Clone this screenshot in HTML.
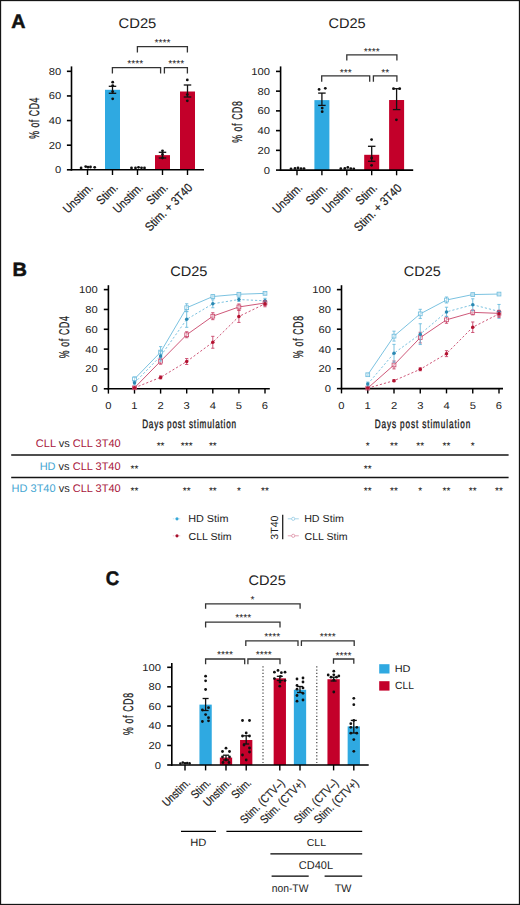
<!DOCTYPE html>
<html><head><meta charset="utf-8"><title>CD25 figure</title>
<style>html,body{margin:0;padding:0;background:#fff;}svg{display:block;}text{font-family:"Liberation Sans",sans-serif;text-rendering:geometricPrecision;}</style>
</head><body>
<svg width="520" height="905" viewBox="0 0 520 905" font-family="Liberation Sans, sans-serif">
<rect x="0" y="0" width="520" height="905" fill="#fff"/>
<text transform="translate(11.31,27.90) scale(1.007,1)" font-size="19.57" font-weight="bold" fill="#111" stroke="#111" stroke-width="0.5">A</text>
<text transform="translate(118.56,28.40) scale(1.055,1)" font-size="14.00" fill="#222">CD25</text>
<text transform="translate(33.80,118.20) rotate(-90) translate(-20.61,5.10) scale(0.620,1)" font-size="14.07" fill="#222" stroke="#222" stroke-width="0.3" letter-spacing="0.883">% of CD4</text>
<rect x="105.00" y="89.79" width="15.00" height="80.02" fill="#2fa9e1"/>
<rect x="155.00" y="155.15" width="15.00" height="14.65" fill="#c3002a"/>
<rect x="180.00" y="91.51" width="15.00" height="78.29" fill="#c3002a"/>
<line x1="71.50" y1="66.40" x2="71.50" y2="170.60" stroke="#000" stroke-width="1.6" />
<line x1="66.90" y1="169.80" x2="71.50" y2="169.80" stroke="#000" stroke-width="1.6" />
<text transform="translate(54.98,173.30) scale(1.120,1)" font-size="10.00" fill="#222">0</text>
<line x1="66.90" y1="145.18" x2="71.50" y2="145.18" stroke="#000" stroke-width="1.6" />
<text transform="translate(48.76,148.68) scale(1.120,1)" font-size="10.00" fill="#222">20</text>
<line x1="66.90" y1="120.56" x2="71.50" y2="120.56" stroke="#000" stroke-width="1.6" />
<text transform="translate(48.76,124.06) scale(1.120,1)" font-size="10.00" fill="#222">40</text>
<line x1="66.90" y1="95.94" x2="71.50" y2="95.94" stroke="#000" stroke-width="1.6" />
<text transform="translate(48.76,99.44) scale(1.120,1)" font-size="10.00" fill="#222">60</text>
<line x1="66.90" y1="71.32" x2="71.50" y2="71.32" stroke="#000" stroke-width="1.6" />
<text transform="translate(48.76,74.82) scale(1.120,1)" font-size="10.00" fill="#222">80</text>
<line x1="70.75" y1="169.80" x2="204.00" y2="169.80" stroke="#000" stroke-width="1.6" />
<line x1="87.50" y1="169.80" x2="87.50" y2="175.00" stroke="#000" stroke-width="1.4" />
<line x1="112.50" y1="169.80" x2="112.50" y2="175.00" stroke="#000" stroke-width="1.4" />
<line x1="137.50" y1="169.80" x2="137.50" y2="175.00" stroke="#000" stroke-width="1.4" />
<line x1="162.50" y1="169.80" x2="162.50" y2="175.00" stroke="#000" stroke-width="1.4" />
<line x1="187.50" y1="169.80" x2="187.50" y2="175.00" stroke="#000" stroke-width="1.4" />
<circle cx="81.10" cy="167.90" r="1.4" fill="#111"/>
<circle cx="85.70" cy="166.60" r="1.4" fill="#111"/>
<circle cx="88.00" cy="167.20" r="1.4" fill="#111"/>
<circle cx="90.50" cy="167.00" r="1.4" fill="#111"/>
<circle cx="94.70" cy="167.30" r="1.4" fill="#111"/>
<circle cx="131.50" cy="167.90" r="1.4" fill="#111"/>
<circle cx="135.50" cy="168.00" r="1.4" fill="#111"/>
<circle cx="138.50" cy="167.30" r="1.4" fill="#111"/>
<circle cx="141.50" cy="167.80" r="1.4" fill="#111"/>
<circle cx="144.50" cy="167.90" r="1.4" fill="#111"/>
<line x1="112.50" y1="86.30" x2="112.50" y2="93.30" stroke="#111" stroke-width="1.3" />
<line x1="108.75" y1="86.30" x2="116.25" y2="86.30" stroke="#111" stroke-width="1.3" />
<line x1="108.75" y1="93.30" x2="116.25" y2="93.30" stroke="#111" stroke-width="1.3" />
<circle cx="112.70" cy="82.20" r="1.4" fill="#111"/>
<circle cx="112.70" cy="85.60" r="1.4" fill="#111"/>
<circle cx="112.70" cy="91.60" r="1.4" fill="#111"/>
<circle cx="112.70" cy="98.80" r="1.4" fill="#111"/>
<line x1="162.50" y1="152.30" x2="162.50" y2="158.00" stroke="#111" stroke-width="1.3" />
<line x1="158.75" y1="152.30" x2="166.25" y2="152.30" stroke="#111" stroke-width="1.3" />
<line x1="158.75" y1="158.00" x2="166.25" y2="158.00" stroke="#111" stroke-width="1.3" />
<circle cx="162.50" cy="150.80" r="1.4" fill="#111"/>
<circle cx="162.50" cy="154.40" r="1.4" fill="#111"/>
<circle cx="162.50" cy="158.00" r="1.4" fill="#111"/>
<line x1="187.50" y1="85.00" x2="187.50" y2="97.00" stroke="#111" stroke-width="1.3" />
<line x1="183.75" y1="85.00" x2="191.25" y2="85.00" stroke="#111" stroke-width="1.3" />
<line x1="183.75" y1="97.00" x2="191.25" y2="97.00" stroke="#111" stroke-width="1.3" />
<circle cx="187.30" cy="79.90" r="1.4" fill="#111"/>
<circle cx="187.30" cy="94.60" r="1.4" fill="#111"/>
<circle cx="187.30" cy="100.80" r="1.4" fill="#111"/>
<path d="M137.40,52.40 V46.60 H187.40 V52.40" fill="none" stroke="#333" stroke-width="1.3"/>
<path d="M112.40,73.60 V67.60 H160.60 V73.60" fill="none" stroke="#333" stroke-width="1.3"/>
<path d="M164.40,73.60 V67.60 H187.40 V73.60" fill="none" stroke="#333" stroke-width="1.3"/>
<text transform="translate(154.59,45.90) scale(1.000,1)" font-size="10.30" fill="#111">****</text>
<text transform="translate(127.29,67.10) scale(1.000,1)" font-size="10.30" fill="#111">****</text>
<text transform="translate(168.29,67.10) scale(1.000,1)" font-size="10.30" fill="#111">****</text>
<text transform="translate(328.47,28.20) scale(1.040,1)" font-size="14.00" fill="#222">CD25</text>
<text transform="translate(236.60,122.00) rotate(-90) translate(-20.81,5.10) scale(0.620,1)" font-size="14.07" fill="#222" stroke="#222" stroke-width="0.3" letter-spacing="0.996">% of CD8</text>
<rect x="314.40" y="100.12" width="15.00" height="69.98" fill="#2fa9e1"/>
<rect x="364.20" y="154.80" width="15.00" height="15.30" fill="#c3002a"/>
<rect x="389.10" y="100.02" width="15.00" height="70.08" fill="#c3002a"/>
<line x1="280.60" y1="66.40" x2="280.60" y2="170.90" stroke="#000" stroke-width="1.6" />
<line x1="276.00" y1="170.10" x2="280.60" y2="170.10" stroke="#000" stroke-width="1.6" />
<text transform="translate(263.78,173.60) scale(1.120,1)" font-size="10.00" fill="#222">0</text>
<line x1="276.00" y1="150.36" x2="280.60" y2="150.36" stroke="#000" stroke-width="1.6" />
<text transform="translate(257.56,153.86) scale(1.120,1)" font-size="10.00" fill="#222">20</text>
<line x1="276.00" y1="130.62" x2="280.60" y2="130.62" stroke="#000" stroke-width="1.6" />
<text transform="translate(257.56,134.12) scale(1.120,1)" font-size="10.00" fill="#222">40</text>
<line x1="276.00" y1="110.88" x2="280.60" y2="110.88" stroke="#000" stroke-width="1.6" />
<text transform="translate(257.56,114.38) scale(1.120,1)" font-size="10.00" fill="#222">60</text>
<line x1="276.00" y1="91.14" x2="280.60" y2="91.14" stroke="#000" stroke-width="1.6" />
<text transform="translate(257.56,94.64) scale(1.120,1)" font-size="10.00" fill="#222">80</text>
<line x1="276.00" y1="71.40" x2="280.60" y2="71.40" stroke="#000" stroke-width="1.6" />
<text transform="translate(251.34,74.90) scale(1.120,1)" font-size="10.00" fill="#222">100</text>
<line x1="279.85" y1="170.10" x2="413.20" y2="170.10" stroke="#000" stroke-width="1.6" />
<line x1="297.00" y1="170.10" x2="297.00" y2="175.30" stroke="#000" stroke-width="1.4" />
<line x1="321.90" y1="170.10" x2="321.90" y2="175.30" stroke="#000" stroke-width="1.4" />
<line x1="346.80" y1="170.10" x2="346.80" y2="175.30" stroke="#000" stroke-width="1.4" />
<line x1="371.70" y1="170.10" x2="371.70" y2="175.30" stroke="#000" stroke-width="1.4" />
<line x1="396.60" y1="170.10" x2="396.60" y2="175.30" stroke="#000" stroke-width="1.4" />
<circle cx="291.00" cy="168.80" r="1.4" fill="#111"/>
<circle cx="295.00" cy="168.40" r="1.4" fill="#111"/>
<circle cx="298.00" cy="168.00" r="1.4" fill="#111"/>
<circle cx="301.00" cy="168.60" r="1.4" fill="#111"/>
<circle cx="304.00" cy="168.60" r="1.4" fill="#111"/>
<circle cx="340.80" cy="168.70" r="1.4" fill="#111"/>
<circle cx="344.80" cy="168.50" r="1.4" fill="#111"/>
<circle cx="347.80" cy="167.40" r="1.4" fill="#111"/>
<circle cx="350.80" cy="168.60" r="1.4" fill="#111"/>
<circle cx="353.80" cy="168.80" r="1.4" fill="#111"/>
<line x1="321.90" y1="93.10" x2="321.90" y2="105.40" stroke="#111" stroke-width="1.3" />
<line x1="318.15" y1="93.10" x2="325.65" y2="93.10" stroke="#111" stroke-width="1.3" />
<line x1="318.15" y1="105.40" x2="325.65" y2="105.40" stroke="#111" stroke-width="1.3" />
<circle cx="319.10" cy="89.40" r="1.4" fill="#111"/>
<circle cx="325.30" cy="88.30" r="1.4" fill="#111"/>
<circle cx="322.20" cy="108.10" r="1.4" fill="#111"/>
<circle cx="322.20" cy="111.70" r="1.4" fill="#111"/>
<line x1="371.70" y1="146.30" x2="371.70" y2="161.30" stroke="#111" stroke-width="1.3" />
<line x1="367.95" y1="146.30" x2="375.45" y2="146.30" stroke="#111" stroke-width="1.3" />
<line x1="367.95" y1="161.30" x2="375.45" y2="161.30" stroke="#111" stroke-width="1.3" />
<circle cx="371.60" cy="139.60" r="1.4" fill="#111"/>
<circle cx="371.60" cy="158.00" r="1.4" fill="#111"/>
<circle cx="371.60" cy="165.30" r="1.4" fill="#111"/>
<line x1="396.60" y1="88.70" x2="396.60" y2="109.60" stroke="#111" stroke-width="1.3" />
<line x1="392.85" y1="88.70" x2="400.35" y2="88.70" stroke="#111" stroke-width="1.3" />
<line x1="392.85" y1="109.60" x2="400.35" y2="109.60" stroke="#111" stroke-width="1.3" />
<circle cx="393.50" cy="88.70" r="1.4" fill="#111"/>
<circle cx="399.70" cy="88.70" r="1.4" fill="#111"/>
<circle cx="396.40" cy="119.80" r="1.4" fill="#111"/>
<path d="M346.80,60.60 V54.80 H396.90 V60.60" fill="none" stroke="#333" stroke-width="1.3"/>
<path d="M321.70,81.80 V75.80 H369.70 V81.80" fill="none" stroke="#333" stroke-width="1.3"/>
<path d="M373.40,81.80 V75.80 H396.90 V81.80" fill="none" stroke="#333" stroke-width="1.3"/>
<text transform="translate(363.79,54.50) scale(1.000,1)" font-size="10.30" fill="#111">****</text>
<text transform="translate(339.67,75.50) scale(1.000,1)" font-size="10.30" fill="#111">***</text>
<text transform="translate(381.18,75.50) scale(1.000,1)" font-size="10.30" fill="#111">**</text>
<text transform="translate(93.00,188.90) rotate(-45) scale(0.875,1) translate(-40.53,0)" font-size="12.30" fill="#222" stroke="#222" stroke-width="0.2">Unstim.</text>
<text transform="translate(118.00,188.90) rotate(-45) scale(0.875,1) translate(-26.88,0)" font-size="12.30" fill="#222" stroke="#222" stroke-width="0.2">Stim.</text>
<text transform="translate(143.00,188.90) rotate(-45) scale(0.875,1) translate(-40.53,0)" font-size="12.30" fill="#222" stroke="#222" stroke-width="0.2">Unstim.</text>
<text transform="translate(168.00,188.90) rotate(-45) scale(0.875,1) translate(-26.88,0)" font-size="12.30" fill="#222" stroke="#222" stroke-width="0.2">Stim.</text>
<text transform="translate(193.00,188.90) rotate(-45) scale(0.875,1) translate(-69.62,0)" font-size="12.30" fill="#222" stroke="#222" stroke-width="0.2">Stim. + 3T40</text>
<text transform="translate(302.50,189.20) rotate(-45) scale(0.875,1) translate(-40.53,0)" font-size="12.30" fill="#222" stroke="#222" stroke-width="0.2">Unstim.</text>
<text transform="translate(327.40,189.20) rotate(-45) scale(0.875,1) translate(-26.88,0)" font-size="12.30" fill="#222" stroke="#222" stroke-width="0.2">Stim.</text>
<text transform="translate(352.30,189.20) rotate(-45) scale(0.875,1) translate(-40.53,0)" font-size="12.30" fill="#222" stroke="#222" stroke-width="0.2">Unstim.</text>
<text transform="translate(377.20,189.20) rotate(-45) scale(0.875,1) translate(-26.88,0)" font-size="12.30" fill="#222" stroke="#222" stroke-width="0.2">Stim.</text>
<text transform="translate(402.10,189.20) rotate(-45) scale(0.875,1) translate(-69.62,0)" font-size="12.30" fill="#222" stroke="#222" stroke-width="0.2">Stim. + 3T40</text>
<text transform="translate(12.60,275.60) scale(1.045,1)" font-size="19.13" font-weight="bold" fill="#111" stroke="#111" stroke-width="0.5">B</text>
<text transform="translate(170.17,275.80) scale(1.051,1)" font-size="13.86" fill="#222">CD25</text>
<text transform="translate(403.78,275.90) scale(1.032,1)" font-size="14.00" fill="#222">CD25</text>
<line x1="108.40" y1="285.20" x2="108.40" y2="389.60" stroke="#000" stroke-width="1.6" />
<line x1="103.80" y1="388.80" x2="108.40" y2="388.80" stroke="#000" stroke-width="1.6" />
<text transform="translate(91.38,392.30) scale(1.120,1)" font-size="10.00" fill="#222">0</text>
<line x1="103.80" y1="368.96" x2="108.40" y2="368.96" stroke="#000" stroke-width="1.6" />
<text transform="translate(85.16,372.46) scale(1.120,1)" font-size="10.00" fill="#222">20</text>
<line x1="103.80" y1="349.12" x2="108.40" y2="349.12" stroke="#000" stroke-width="1.6" />
<text transform="translate(85.16,352.62) scale(1.120,1)" font-size="10.00" fill="#222">40</text>
<line x1="103.80" y1="329.28" x2="108.40" y2="329.28" stroke="#000" stroke-width="1.6" />
<text transform="translate(85.16,332.78) scale(1.120,1)" font-size="10.00" fill="#222">60</text>
<line x1="103.80" y1="309.44" x2="108.40" y2="309.44" stroke="#000" stroke-width="1.6" />
<text transform="translate(85.16,312.94) scale(1.120,1)" font-size="10.00" fill="#222">80</text>
<line x1="103.80" y1="289.60" x2="108.40" y2="289.60" stroke="#000" stroke-width="1.6" />
<text transform="translate(78.94,293.10) scale(1.120,1)" font-size="10.00" fill="#222">100</text>
<line x1="107.65" y1="388.80" x2="269.80" y2="388.80" stroke="#000" stroke-width="1.6" />
<line x1="108.40" y1="388.80" x2="108.40" y2="393.60" stroke="#000" stroke-width="1.4" />
<text transform="translate(105.26,408.80) scale(1.120,1)" font-size="10.00" fill="#222">0</text>
<line x1="134.50" y1="388.80" x2="134.50" y2="393.60" stroke="#000" stroke-width="1.4" />
<text transform="translate(131.22,408.80) scale(1.120,1)" font-size="10.00" fill="#222">1</text>
<line x1="160.60" y1="388.80" x2="160.60" y2="393.60" stroke="#000" stroke-width="1.4" />
<text transform="translate(157.49,408.80) scale(1.120,1)" font-size="10.00" fill="#222">2</text>
<line x1="186.70" y1="388.80" x2="186.70" y2="393.60" stroke="#000" stroke-width="1.4" />
<text transform="translate(183.59,408.80) scale(1.120,1)" font-size="10.00" fill="#222">3</text>
<line x1="212.80" y1="388.80" x2="212.80" y2="393.60" stroke="#000" stroke-width="1.4" />
<text transform="translate(209.75,408.80) scale(1.120,1)" font-size="10.00" fill="#222">4</text>
<line x1="238.90" y1="388.80" x2="238.90" y2="393.60" stroke="#000" stroke-width="1.4" />
<text transform="translate(235.79,408.80) scale(1.120,1)" font-size="10.00" fill="#222">5</text>
<line x1="265.00" y1="388.80" x2="265.00" y2="393.60" stroke="#000" stroke-width="1.4" />
<text transform="translate(261.84,408.80) scale(1.120,1)" font-size="10.00" fill="#222">6</text>
<polyline points="134.50,387.81 160.60,377.39 186.70,361.52 212.80,342.28 238.90,316.48 265.00,303.79" fill="none" stroke="#c8456a" stroke-width="0.9" stroke-dasharray="2.2,2"/>
<polyline points="134.50,387.81 160.60,361.22 186.70,334.74 212.80,316.19 238.90,306.96 265.00,302.99" fill="none" stroke="#c8456a" stroke-width="0.9"/>
<polyline points="134.50,382.85 160.60,356.06 186.70,319.36 212.80,303.79 238.90,299.52 265.00,300.81" fill="none" stroke="#6cbbdc" stroke-width="0.9" stroke-dasharray="2.2,2"/>
<polyline points="134.50,378.98 160.60,352.10 186.70,307.75 212.80,296.54 238.90,294.26 265.00,293.37" fill="none" stroke="#6cbbdc" stroke-width="0.9"/>
<line x1="134.50" y1="377.00" x2="134.50" y2="380.96" stroke="#6cbbdc" stroke-width="0.9" />
<line x1="132.90" y1="377.00" x2="136.10" y2="377.00" stroke="#6cbbdc" stroke-width="0.9" />
<line x1="132.90" y1="380.96" x2="136.10" y2="380.96" stroke="#6cbbdc" stroke-width="0.9" />
<rect x="132.60" y="377.08" width="3.8" height="3.8" fill="#fff" fill-opacity="0.5" stroke="#6cbbdc" stroke-width="0.8"/>
<line x1="160.60" y1="346.64" x2="160.60" y2="357.55" stroke="#6cbbdc" stroke-width="0.9" />
<line x1="159.00" y1="346.64" x2="162.20" y2="346.64" stroke="#6cbbdc" stroke-width="0.9" />
<line x1="159.00" y1="357.55" x2="162.20" y2="357.55" stroke="#6cbbdc" stroke-width="0.9" />
<rect x="158.70" y="350.20" width="3.8" height="3.8" fill="#fff" fill-opacity="0.5" stroke="#6cbbdc" stroke-width="0.8"/>
<line x1="186.70" y1="303.79" x2="186.70" y2="311.72" stroke="#6cbbdc" stroke-width="0.9" />
<line x1="185.10" y1="303.79" x2="188.30" y2="303.79" stroke="#6cbbdc" stroke-width="0.9" />
<line x1="185.10" y1="311.72" x2="188.30" y2="311.72" stroke="#6cbbdc" stroke-width="0.9" />
<rect x="184.80" y="305.85" width="3.8" height="3.8" fill="#fff" fill-opacity="0.5" stroke="#6cbbdc" stroke-width="0.8"/>
<line x1="212.80" y1="295.06" x2="212.80" y2="298.03" stroke="#6cbbdc" stroke-width="0.9" />
<line x1="211.20" y1="295.06" x2="214.40" y2="295.06" stroke="#6cbbdc" stroke-width="0.9" />
<line x1="211.20" y1="298.03" x2="214.40" y2="298.03" stroke="#6cbbdc" stroke-width="0.9" />
<rect x="210.90" y="294.64" width="3.8" height="3.8" fill="#fff" fill-opacity="0.5" stroke="#6cbbdc" stroke-width="0.8"/>
<line x1="238.90" y1="293.27" x2="238.90" y2="295.25" stroke="#6cbbdc" stroke-width="0.9" />
<line x1="237.30" y1="293.27" x2="240.50" y2="293.27" stroke="#6cbbdc" stroke-width="0.9" />
<line x1="237.30" y1="295.25" x2="240.50" y2="295.25" stroke="#6cbbdc" stroke-width="0.9" />
<rect x="237.00" y="292.36" width="3.8" height="3.8" fill="#fff" fill-opacity="0.5" stroke="#6cbbdc" stroke-width="0.8"/>
<line x1="265.00" y1="292.38" x2="265.00" y2="294.36" stroke="#6cbbdc" stroke-width="0.9" />
<line x1="263.40" y1="292.38" x2="266.60" y2="292.38" stroke="#6cbbdc" stroke-width="0.9" />
<line x1="263.40" y1="294.36" x2="266.60" y2="294.36" stroke="#6cbbdc" stroke-width="0.9" />
<rect x="263.10" y="291.47" width="3.8" height="3.8" fill="#fff" fill-opacity="0.5" stroke="#6cbbdc" stroke-width="0.8"/>
<line x1="134.50" y1="387.31" x2="134.50" y2="388.30" stroke="#c8456a" stroke-width="0.9" />
<line x1="132.90" y1="387.31" x2="136.10" y2="387.31" stroke="#c8456a" stroke-width="0.9" />
<line x1="132.90" y1="388.30" x2="136.10" y2="388.30" stroke="#c8456a" stroke-width="0.9" />
<rect x="132.60" y="385.91" width="3.8" height="3.8" fill="#fff" fill-opacity="0.5" stroke="#c8456a" stroke-width="0.8"/>
<line x1="160.60" y1="358.25" x2="160.60" y2="364.20" stroke="#c8456a" stroke-width="0.9" />
<line x1="159.00" y1="358.25" x2="162.20" y2="358.25" stroke="#c8456a" stroke-width="0.9" />
<line x1="159.00" y1="364.20" x2="162.20" y2="364.20" stroke="#c8456a" stroke-width="0.9" />
<rect x="158.70" y="359.32" width="3.8" height="3.8" fill="#fff" fill-opacity="0.5" stroke="#c8456a" stroke-width="0.8"/>
<line x1="186.70" y1="331.76" x2="186.70" y2="337.71" stroke="#c8456a" stroke-width="0.9" />
<line x1="185.10" y1="331.76" x2="188.30" y2="331.76" stroke="#c8456a" stroke-width="0.9" />
<line x1="185.10" y1="337.71" x2="188.30" y2="337.71" stroke="#c8456a" stroke-width="0.9" />
<rect x="184.80" y="332.84" width="3.8" height="3.8" fill="#fff" fill-opacity="0.5" stroke="#c8456a" stroke-width="0.8"/>
<line x1="212.80" y1="312.71" x2="212.80" y2="319.66" stroke="#c8456a" stroke-width="0.9" />
<line x1="211.20" y1="312.71" x2="214.40" y2="312.71" stroke="#c8456a" stroke-width="0.9" />
<line x1="211.20" y1="319.66" x2="214.40" y2="319.66" stroke="#c8456a" stroke-width="0.9" />
<rect x="210.90" y="314.29" width="3.8" height="3.8" fill="#fff" fill-opacity="0.5" stroke="#c8456a" stroke-width="0.8"/>
<line x1="238.90" y1="303.98" x2="238.90" y2="309.94" stroke="#c8456a" stroke-width="0.9" />
<line x1="237.30" y1="303.98" x2="240.50" y2="303.98" stroke="#c8456a" stroke-width="0.9" />
<line x1="237.30" y1="309.94" x2="240.50" y2="309.94" stroke="#c8456a" stroke-width="0.9" />
<rect x="237.00" y="305.06" width="3.8" height="3.8" fill="#fff" fill-opacity="0.5" stroke="#c8456a" stroke-width="0.8"/>
<line x1="265.00" y1="300.51" x2="265.00" y2="305.47" stroke="#c8456a" stroke-width="0.9" />
<line x1="263.40" y1="300.51" x2="266.60" y2="300.51" stroke="#c8456a" stroke-width="0.9" />
<line x1="263.40" y1="305.47" x2="266.60" y2="305.47" stroke="#c8456a" stroke-width="0.9" />
<rect x="263.10" y="301.09" width="3.8" height="3.8" fill="#fff" fill-opacity="0.5" stroke="#c8456a" stroke-width="0.8"/>
<line x1="134.50" y1="380.86" x2="134.50" y2="384.83" stroke="#6cbbdc" stroke-width="0.9" />
<line x1="132.90" y1="380.86" x2="136.10" y2="380.86" stroke="#6cbbdc" stroke-width="0.9" />
<line x1="132.90" y1="384.83" x2="136.10" y2="384.83" stroke="#6cbbdc" stroke-width="0.9" />
<circle cx="134.50" cy="382.85" r="1.75" fill="#2a88b2"/>
<line x1="160.60" y1="351.10" x2="160.60" y2="361.02" stroke="#6cbbdc" stroke-width="0.9" />
<line x1="159.00" y1="351.10" x2="162.20" y2="351.10" stroke="#6cbbdc" stroke-width="0.9" />
<line x1="159.00" y1="361.02" x2="162.20" y2="361.02" stroke="#6cbbdc" stroke-width="0.9" />
<circle cx="160.60" cy="356.06" r="1.75" fill="#2a88b2"/>
<line x1="186.70" y1="311.42" x2="186.70" y2="327.30" stroke="#6cbbdc" stroke-width="0.9" />
<line x1="185.10" y1="311.42" x2="188.30" y2="311.42" stroke="#6cbbdc" stroke-width="0.9" />
<line x1="185.10" y1="327.30" x2="188.30" y2="327.30" stroke="#6cbbdc" stroke-width="0.9" />
<circle cx="186.70" cy="319.36" r="1.75" fill="#2a88b2"/>
<line x1="212.80" y1="299.82" x2="212.80" y2="307.75" stroke="#6cbbdc" stroke-width="0.9" />
<line x1="211.20" y1="299.82" x2="214.40" y2="299.82" stroke="#6cbbdc" stroke-width="0.9" />
<line x1="211.20" y1="307.75" x2="214.40" y2="307.75" stroke="#6cbbdc" stroke-width="0.9" />
<circle cx="212.80" cy="303.79" r="1.75" fill="#2a88b2"/>
<line x1="238.90" y1="297.54" x2="238.90" y2="301.50" stroke="#6cbbdc" stroke-width="0.9" />
<line x1="237.30" y1="297.54" x2="240.50" y2="297.54" stroke="#6cbbdc" stroke-width="0.9" />
<line x1="237.30" y1="301.50" x2="240.50" y2="301.50" stroke="#6cbbdc" stroke-width="0.9" />
<circle cx="238.90" cy="299.52" r="1.75" fill="#2a88b2"/>
<line x1="265.00" y1="298.33" x2="265.00" y2="303.29" stroke="#6cbbdc" stroke-width="0.9" />
<line x1="263.40" y1="298.33" x2="266.60" y2="298.33" stroke="#6cbbdc" stroke-width="0.9" />
<line x1="263.40" y1="303.29" x2="266.60" y2="303.29" stroke="#6cbbdc" stroke-width="0.9" />
<circle cx="265.00" cy="300.81" r="1.75" fill="#2a88b2"/>
<line x1="134.50" y1="387.31" x2="134.50" y2="388.30" stroke="#c8456a" stroke-width="0.9" />
<line x1="132.90" y1="387.31" x2="136.10" y2="387.31" stroke="#c8456a" stroke-width="0.9" />
<line x1="132.90" y1="388.30" x2="136.10" y2="388.30" stroke="#c8456a" stroke-width="0.9" />
<circle cx="134.50" cy="387.81" r="1.75" fill="#b3122f"/>
<line x1="160.60" y1="375.90" x2="160.60" y2="378.88" stroke="#c8456a" stroke-width="0.9" />
<line x1="159.00" y1="375.90" x2="162.20" y2="375.90" stroke="#c8456a" stroke-width="0.9" />
<line x1="159.00" y1="378.88" x2="162.20" y2="378.88" stroke="#c8456a" stroke-width="0.9" />
<circle cx="160.60" cy="377.39" r="1.75" fill="#b3122f"/>
<line x1="186.70" y1="358.54" x2="186.70" y2="364.50" stroke="#c8456a" stroke-width="0.9" />
<line x1="185.10" y1="358.54" x2="188.30" y2="358.54" stroke="#c8456a" stroke-width="0.9" />
<line x1="185.10" y1="364.50" x2="188.30" y2="364.50" stroke="#c8456a" stroke-width="0.9" />
<circle cx="186.70" cy="361.52" r="1.75" fill="#b3122f"/>
<line x1="212.80" y1="336.32" x2="212.80" y2="348.23" stroke="#c8456a" stroke-width="0.9" />
<line x1="211.20" y1="336.32" x2="214.40" y2="336.32" stroke="#c8456a" stroke-width="0.9" />
<line x1="211.20" y1="348.23" x2="214.40" y2="348.23" stroke="#c8456a" stroke-width="0.9" />
<circle cx="212.80" cy="342.28" r="1.75" fill="#b3122f"/>
<line x1="238.90" y1="310.53" x2="238.90" y2="322.44" stroke="#c8456a" stroke-width="0.9" />
<line x1="237.30" y1="310.53" x2="240.50" y2="310.53" stroke="#c8456a" stroke-width="0.9" />
<line x1="237.30" y1="322.44" x2="240.50" y2="322.44" stroke="#c8456a" stroke-width="0.9" />
<circle cx="238.90" cy="316.48" r="1.75" fill="#b3122f"/>
<line x1="265.00" y1="300.81" x2="265.00" y2="306.76" stroke="#c8456a" stroke-width="0.9" />
<line x1="263.40" y1="300.81" x2="266.60" y2="300.81" stroke="#c8456a" stroke-width="0.9" />
<line x1="263.40" y1="306.76" x2="266.60" y2="306.76" stroke="#c8456a" stroke-width="0.9" />
<circle cx="265.00" cy="303.79" r="1.75" fill="#b3122f"/>
<text transform="translate(64.30,337.20) rotate(-90) translate(-21.01,5.10) scale(0.620,1)" font-size="14.07" fill="#222" stroke="#222" stroke-width="0.3" letter-spacing="1.068">% of CD4</text>
<line x1="341.50" y1="285.20" x2="341.50" y2="389.40" stroke="#000" stroke-width="1.6" />
<line x1="336.90" y1="388.60" x2="341.50" y2="388.60" stroke="#000" stroke-width="1.6" />
<text transform="translate(324.78,392.10) scale(1.120,1)" font-size="10.00" fill="#222">0</text>
<line x1="336.90" y1="368.80" x2="341.50" y2="368.80" stroke="#000" stroke-width="1.6" />
<text transform="translate(318.56,372.30) scale(1.120,1)" font-size="10.00" fill="#222">20</text>
<line x1="336.90" y1="349.00" x2="341.50" y2="349.00" stroke="#000" stroke-width="1.6" />
<text transform="translate(318.56,352.50) scale(1.120,1)" font-size="10.00" fill="#222">40</text>
<line x1="336.90" y1="329.20" x2="341.50" y2="329.20" stroke="#000" stroke-width="1.6" />
<text transform="translate(318.56,332.70) scale(1.120,1)" font-size="10.00" fill="#222">60</text>
<line x1="336.90" y1="309.40" x2="341.50" y2="309.40" stroke="#000" stroke-width="1.6" />
<text transform="translate(318.56,312.90) scale(1.120,1)" font-size="10.00" fill="#222">80</text>
<line x1="336.90" y1="289.60" x2="341.50" y2="289.60" stroke="#000" stroke-width="1.6" />
<text transform="translate(312.34,293.10) scale(1.120,1)" font-size="10.00" fill="#222">100</text>
<line x1="340.75" y1="388.60" x2="503.00" y2="388.60" stroke="#000" stroke-width="1.6" />
<line x1="341.50" y1="388.60" x2="341.50" y2="393.40" stroke="#000" stroke-width="1.4" />
<text transform="translate(338.36,408.60) scale(1.120,1)" font-size="10.00" fill="#222">0</text>
<line x1="367.75" y1="388.60" x2="367.75" y2="393.40" stroke="#000" stroke-width="1.4" />
<text transform="translate(364.47,408.60) scale(1.120,1)" font-size="10.00" fill="#222">1</text>
<line x1="394.00" y1="388.60" x2="394.00" y2="393.40" stroke="#000" stroke-width="1.4" />
<text transform="translate(390.89,408.60) scale(1.120,1)" font-size="10.00" fill="#222">2</text>
<line x1="420.25" y1="388.60" x2="420.25" y2="393.40" stroke="#000" stroke-width="1.4" />
<text transform="translate(417.14,408.60) scale(1.120,1)" font-size="10.00" fill="#222">3</text>
<line x1="446.50" y1="388.60" x2="446.50" y2="393.40" stroke="#000" stroke-width="1.4" />
<text transform="translate(443.45,408.60) scale(1.120,1)" font-size="10.00" fill="#222">4</text>
<line x1="472.75" y1="388.60" x2="472.75" y2="393.40" stroke="#000" stroke-width="1.4" />
<text transform="translate(469.64,408.60) scale(1.120,1)" font-size="10.00" fill="#222">5</text>
<line x1="499.00" y1="388.60" x2="499.00" y2="393.40" stroke="#000" stroke-width="1.4" />
<text transform="translate(495.84,408.60) scale(1.120,1)" font-size="10.00" fill="#222">6</text>
<polyline points="367.75,388.11 394.00,380.68 420.25,369.30 446.50,353.65 472.75,327.22 499.00,313.86" fill="none" stroke="#c8456a" stroke-width="0.9" stroke-dasharray="2.2,2"/>
<polyline points="367.75,388.11 394.00,364.94 420.25,337.62 446.50,319.80 472.75,312.37 499.00,313.36" fill="none" stroke="#c8456a" stroke-width="0.9"/>
<polyline points="367.75,384.05 394.00,353.26 420.25,334.15 446.50,311.88 472.75,304.75 499.00,311.38" fill="none" stroke="#6cbbdc" stroke-width="0.9" stroke-dasharray="2.2,2"/>
<polyline points="367.75,374.74 394.00,336.13 420.25,313.86 446.50,300.00 472.75,294.55 499.00,294.06" fill="none" stroke="#6cbbdc" stroke-width="0.9"/>
<line x1="367.75" y1="373.75" x2="367.75" y2="375.73" stroke="#6cbbdc" stroke-width="0.9" />
<line x1="366.15" y1="373.75" x2="369.35" y2="373.75" stroke="#6cbbdc" stroke-width="0.9" />
<line x1="366.15" y1="375.73" x2="369.35" y2="375.73" stroke="#6cbbdc" stroke-width="0.9" />
<rect x="365.85" y="372.84" width="3.8" height="3.8" fill="#fff" fill-opacity="0.5" stroke="#6cbbdc" stroke-width="0.8"/>
<line x1="394.00" y1="331.18" x2="394.00" y2="341.08" stroke="#6cbbdc" stroke-width="0.9" />
<line x1="392.40" y1="331.18" x2="395.60" y2="331.18" stroke="#6cbbdc" stroke-width="0.9" />
<line x1="392.40" y1="341.08" x2="395.60" y2="341.08" stroke="#6cbbdc" stroke-width="0.9" />
<rect x="392.10" y="334.23" width="3.8" height="3.8" fill="#fff" fill-opacity="0.5" stroke="#6cbbdc" stroke-width="0.8"/>
<line x1="420.25" y1="309.30" x2="420.25" y2="318.41" stroke="#6cbbdc" stroke-width="0.9" />
<line x1="418.65" y1="309.30" x2="421.85" y2="309.30" stroke="#6cbbdc" stroke-width="0.9" />
<line x1="418.65" y1="318.41" x2="421.85" y2="318.41" stroke="#6cbbdc" stroke-width="0.9" />
<rect x="418.35" y="311.96" width="3.8" height="3.8" fill="#fff" fill-opacity="0.5" stroke="#6cbbdc" stroke-width="0.8"/>
<line x1="446.50" y1="297.02" x2="446.50" y2="302.97" stroke="#6cbbdc" stroke-width="0.9" />
<line x1="444.90" y1="297.02" x2="448.10" y2="297.02" stroke="#6cbbdc" stroke-width="0.9" />
<line x1="444.90" y1="302.97" x2="448.10" y2="302.97" stroke="#6cbbdc" stroke-width="0.9" />
<rect x="444.60" y="298.10" width="3.8" height="3.8" fill="#fff" fill-opacity="0.5" stroke="#6cbbdc" stroke-width="0.8"/>
<line x1="472.75" y1="293.56" x2="472.75" y2="295.54" stroke="#6cbbdc" stroke-width="0.9" />
<line x1="471.15" y1="293.56" x2="474.35" y2="293.56" stroke="#6cbbdc" stroke-width="0.9" />
<line x1="471.15" y1="295.54" x2="474.35" y2="295.54" stroke="#6cbbdc" stroke-width="0.9" />
<rect x="470.85" y="292.65" width="3.8" height="3.8" fill="#fff" fill-opacity="0.5" stroke="#6cbbdc" stroke-width="0.8"/>
<line x1="499.00" y1="293.06" x2="499.00" y2="295.05" stroke="#6cbbdc" stroke-width="0.9" />
<line x1="497.40" y1="293.06" x2="500.60" y2="293.06" stroke="#6cbbdc" stroke-width="0.9" />
<line x1="497.40" y1="295.05" x2="500.60" y2="295.05" stroke="#6cbbdc" stroke-width="0.9" />
<rect x="497.10" y="292.16" width="3.8" height="3.8" fill="#fff" fill-opacity="0.5" stroke="#6cbbdc" stroke-width="0.8"/>
<line x1="367.75" y1="387.61" x2="367.75" y2="388.60" stroke="#c8456a" stroke-width="0.9" />
<line x1="366.15" y1="387.61" x2="369.35" y2="387.61" stroke="#c8456a" stroke-width="0.9" />
<line x1="366.15" y1="388.60" x2="369.35" y2="388.60" stroke="#c8456a" stroke-width="0.9" />
<rect x="365.85" y="386.21" width="3.8" height="3.8" fill="#fff" fill-opacity="0.5" stroke="#c8456a" stroke-width="0.8"/>
<line x1="394.00" y1="360.98" x2="394.00" y2="368.90" stroke="#c8456a" stroke-width="0.9" />
<line x1="392.40" y1="360.98" x2="395.60" y2="360.98" stroke="#c8456a" stroke-width="0.9" />
<line x1="392.40" y1="368.90" x2="395.60" y2="368.90" stroke="#c8456a" stroke-width="0.9" />
<rect x="392.10" y="363.04" width="3.8" height="3.8" fill="#fff" fill-opacity="0.5" stroke="#c8456a" stroke-width="0.8"/>
<line x1="420.25" y1="332.27" x2="420.25" y2="342.96" stroke="#c8456a" stroke-width="0.9" />
<line x1="418.65" y1="332.27" x2="421.85" y2="332.27" stroke="#c8456a" stroke-width="0.9" />
<line x1="418.65" y1="342.96" x2="421.85" y2="342.96" stroke="#c8456a" stroke-width="0.9" />
<rect x="418.35" y="335.72" width="3.8" height="3.8" fill="#fff" fill-opacity="0.5" stroke="#c8456a" stroke-width="0.8"/>
<line x1="446.50" y1="316.33" x2="446.50" y2="323.26" stroke="#c8456a" stroke-width="0.9" />
<line x1="444.90" y1="316.33" x2="448.10" y2="316.33" stroke="#c8456a" stroke-width="0.9" />
<line x1="444.90" y1="323.26" x2="448.10" y2="323.26" stroke="#c8456a" stroke-width="0.9" />
<rect x="444.60" y="317.90" width="3.8" height="3.8" fill="#fff" fill-opacity="0.5" stroke="#c8456a" stroke-width="0.8"/>
<line x1="472.75" y1="309.89" x2="472.75" y2="314.85" stroke="#c8456a" stroke-width="0.9" />
<line x1="471.15" y1="309.89" x2="474.35" y2="309.89" stroke="#c8456a" stroke-width="0.9" />
<line x1="471.15" y1="314.85" x2="474.35" y2="314.85" stroke="#c8456a" stroke-width="0.9" />
<rect x="470.85" y="310.47" width="3.8" height="3.8" fill="#fff" fill-opacity="0.5" stroke="#c8456a" stroke-width="0.8"/>
<line x1="499.00" y1="310.39" x2="499.00" y2="316.33" stroke="#c8456a" stroke-width="0.9" />
<line x1="497.40" y1="310.39" x2="500.60" y2="310.39" stroke="#c8456a" stroke-width="0.9" />
<line x1="497.40" y1="316.33" x2="500.60" y2="316.33" stroke="#c8456a" stroke-width="0.9" />
<rect x="497.10" y="311.46" width="3.8" height="3.8" fill="#fff" fill-opacity="0.5" stroke="#c8456a" stroke-width="0.8"/>
<line x1="367.75" y1="382.07" x2="367.75" y2="386.03" stroke="#6cbbdc" stroke-width="0.9" />
<line x1="366.15" y1="382.07" x2="369.35" y2="382.07" stroke="#6cbbdc" stroke-width="0.9" />
<line x1="366.15" y1="386.03" x2="369.35" y2="386.03" stroke="#6cbbdc" stroke-width="0.9" />
<circle cx="367.75" cy="384.05" r="1.75" fill="#2a88b2"/>
<line x1="394.00" y1="344.35" x2="394.00" y2="362.17" stroke="#6cbbdc" stroke-width="0.9" />
<line x1="392.40" y1="344.35" x2="395.60" y2="344.35" stroke="#6cbbdc" stroke-width="0.9" />
<line x1="392.40" y1="362.17" x2="395.60" y2="362.17" stroke="#6cbbdc" stroke-width="0.9" />
<circle cx="394.00" cy="353.26" r="1.75" fill="#2a88b2"/>
<line x1="420.25" y1="323.76" x2="420.25" y2="344.55" stroke="#6cbbdc" stroke-width="0.9" />
<line x1="418.65" y1="323.76" x2="421.85" y2="323.76" stroke="#6cbbdc" stroke-width="0.9" />
<line x1="418.65" y1="344.55" x2="421.85" y2="344.55" stroke="#6cbbdc" stroke-width="0.9" />
<circle cx="420.25" cy="334.15" r="1.75" fill="#2a88b2"/>
<line x1="446.50" y1="307.22" x2="446.50" y2="316.53" stroke="#6cbbdc" stroke-width="0.9" />
<line x1="444.90" y1="307.22" x2="448.10" y2="307.22" stroke="#6cbbdc" stroke-width="0.9" />
<line x1="444.90" y1="316.53" x2="448.10" y2="316.53" stroke="#6cbbdc" stroke-width="0.9" />
<circle cx="446.50" cy="311.88" r="1.75" fill="#2a88b2"/>
<line x1="472.75" y1="298.81" x2="472.75" y2="310.69" stroke="#6cbbdc" stroke-width="0.9" />
<line x1="471.15" y1="298.81" x2="474.35" y2="298.81" stroke="#6cbbdc" stroke-width="0.9" />
<line x1="471.15" y1="310.69" x2="474.35" y2="310.69" stroke="#6cbbdc" stroke-width="0.9" />
<circle cx="472.75" cy="304.75" r="1.75" fill="#2a88b2"/>
<line x1="499.00" y1="304.45" x2="499.00" y2="318.31" stroke="#6cbbdc" stroke-width="0.9" />
<line x1="497.40" y1="304.45" x2="500.60" y2="304.45" stroke="#6cbbdc" stroke-width="0.9" />
<line x1="497.40" y1="318.31" x2="500.60" y2="318.31" stroke="#6cbbdc" stroke-width="0.9" />
<circle cx="499.00" cy="311.38" r="1.75" fill="#2a88b2"/>
<line x1="367.75" y1="387.61" x2="367.75" y2="388.60" stroke="#c8456a" stroke-width="0.9" />
<line x1="366.15" y1="387.61" x2="369.35" y2="387.61" stroke="#c8456a" stroke-width="0.9" />
<line x1="366.15" y1="388.60" x2="369.35" y2="388.60" stroke="#c8456a" stroke-width="0.9" />
<circle cx="367.75" cy="388.11" r="1.75" fill="#b3122f"/>
<line x1="394.00" y1="379.69" x2="394.00" y2="381.67" stroke="#c8456a" stroke-width="0.9" />
<line x1="392.40" y1="379.69" x2="395.60" y2="379.69" stroke="#c8456a" stroke-width="0.9" />
<line x1="392.40" y1="381.67" x2="395.60" y2="381.67" stroke="#c8456a" stroke-width="0.9" />
<circle cx="394.00" cy="380.68" r="1.75" fill="#b3122f"/>
<line x1="420.25" y1="367.81" x2="420.25" y2="370.78" stroke="#c8456a" stroke-width="0.9" />
<line x1="418.65" y1="367.81" x2="421.85" y2="367.81" stroke="#c8456a" stroke-width="0.9" />
<line x1="418.65" y1="370.78" x2="421.85" y2="370.78" stroke="#c8456a" stroke-width="0.9" />
<circle cx="420.25" cy="369.30" r="1.75" fill="#b3122f"/>
<line x1="446.50" y1="350.68" x2="446.50" y2="356.62" stroke="#c8456a" stroke-width="0.9" />
<line x1="444.90" y1="350.68" x2="448.10" y2="350.68" stroke="#c8456a" stroke-width="0.9" />
<line x1="444.90" y1="356.62" x2="448.10" y2="356.62" stroke="#c8456a" stroke-width="0.9" />
<circle cx="446.50" cy="353.65" r="1.75" fill="#b3122f"/>
<line x1="472.75" y1="321.97" x2="472.75" y2="332.47" stroke="#c8456a" stroke-width="0.9" />
<line x1="471.15" y1="321.97" x2="474.35" y2="321.97" stroke="#c8456a" stroke-width="0.9" />
<line x1="471.15" y1="332.47" x2="474.35" y2="332.47" stroke="#c8456a" stroke-width="0.9" />
<circle cx="472.75" cy="327.22" r="1.75" fill="#b3122f"/>
<line x1="499.00" y1="310.39" x2="499.00" y2="317.32" stroke="#c8456a" stroke-width="0.9" />
<line x1="497.40" y1="310.39" x2="500.60" y2="310.39" stroke="#c8456a" stroke-width="0.9" />
<line x1="497.40" y1="317.32" x2="500.60" y2="317.32" stroke="#c8456a" stroke-width="0.9" />
<circle cx="499.00" cy="313.86" r="1.75" fill="#b3122f"/>
<text transform="translate(297.90,337.00) rotate(-90) translate(-21.21,5.10) scale(0.620,1)" font-size="14.07" fill="#222" stroke="#222" stroke-width="0.3" letter-spacing="1.180">% of CD8</text>
<text transform="translate(142.15,427.70) scale(0.680,1)" font-size="12.03" fill="#222" stroke="#222" stroke-width="0.4" letter-spacing="1.201">Days post stimulation</text>
<text transform="translate(374.75,427.70) scale(0.680,1)" font-size="12.03" fill="#222" stroke="#222" stroke-width="0.4" letter-spacing="1.312">Days post stimulation</text>
<text x="35.83" y="447.00" font-size="11.0"><tspan fill="#a8163c">CLL</tspan><tspan fill="#2a2a2a"> vs </tspan><tspan fill="#a8163c">CLL 3T40</tspan></text>
<text x="39.68" y="469.70" font-size="11.0"><tspan fill="#45a6d2">HD</tspan><tspan fill="#2a2a2a"> vs </tspan><tspan fill="#a8163c">CLL 3T40</tspan></text>
<text x="11.58" y="491.60" font-size="11.0"><tspan fill="#45a6d2">HD 3T40</tspan><tspan fill="#2a2a2a"> vs </tspan><tspan fill="#a8163c">CLL 3T40</tspan></text>
<line x1="11.20" y1="455.00" x2="508.60" y2="455.00" stroke="#151515" stroke-width="1.4" />
<line x1="11.20" y1="477.50" x2="508.60" y2="477.50" stroke="#151515" stroke-width="1.4" />
<text transform="translate(156.70,449.35) scale(1.000,1)" font-size="10.00" fill="#111">**</text>
<text transform="translate(180.85,449.35) scale(1.000,1)" font-size="10.00" fill="#111">***</text>
<text transform="translate(208.90,449.35) scale(1.000,1)" font-size="10.00" fill="#111">**</text>
<text transform="translate(365.80,449.35) scale(1.000,1)" font-size="10.00" fill="#111">*</text>
<text transform="translate(390.10,449.35) scale(1.000,1)" font-size="10.00" fill="#111">**</text>
<text transform="translate(416.35,449.35) scale(1.000,1)" font-size="10.00" fill="#111">**</text>
<text transform="translate(442.60,449.35) scale(1.000,1)" font-size="10.00" fill="#111">**</text>
<text transform="translate(470.80,449.35) scale(1.000,1)" font-size="10.00" fill="#111">*</text>
<text transform="translate(130.60,471.55) scale(1.000,1)" font-size="10.00" fill="#111">**</text>
<text transform="translate(363.85,471.55) scale(1.000,1)" font-size="10.00" fill="#111">**</text>
<text transform="translate(130.60,494.35) scale(1.000,1)" font-size="10.00" fill="#111">**</text>
<text transform="translate(182.80,494.35) scale(1.000,1)" font-size="10.00" fill="#111">**</text>
<text transform="translate(208.90,494.35) scale(1.000,1)" font-size="10.00" fill="#111">**</text>
<text transform="translate(236.95,494.35) scale(1.000,1)" font-size="10.00" fill="#111">*</text>
<text transform="translate(261.10,494.35) scale(1.000,1)" font-size="10.00" fill="#111">**</text>
<text transform="translate(363.85,494.35) scale(1.000,1)" font-size="10.00" fill="#111">**</text>
<text transform="translate(390.10,494.35) scale(1.000,1)" font-size="10.00" fill="#111">**</text>
<text transform="translate(418.30,494.35) scale(1.000,1)" font-size="10.00" fill="#111">*</text>
<text transform="translate(442.60,494.35) scale(1.000,1)" font-size="10.00" fill="#111">**</text>
<text transform="translate(468.85,494.35) scale(1.000,1)" font-size="10.00" fill="#111">**</text>
<text transform="translate(495.10,494.35) scale(1.000,1)" font-size="10.00" fill="#111">**</text>
<line x1="172.80" y1="518.80" x2="181.20" y2="518.80" stroke="#b8e0f0" stroke-width="0.8" stroke-dasharray="1.5,1.5"/>
<circle cx="177.00" cy="518.80" r="1.6" fill="#36a8d8"/>
<line x1="172.80" y1="535.80" x2="181.20" y2="535.80" stroke="#e8b0c0" stroke-width="0.8" stroke-dasharray="1.5,1.5"/>
<circle cx="177.00" cy="535.80" r="1.6" fill="#a8102c"/>
<text transform="translate(188.13,522.40) scale(1.062,1)" font-size="10.21" fill="#222">HD Stim</text>
<text transform="translate(188.47,539.60) scale(1.039,1)" font-size="10.21" fill="#222">CLL Stim</text>
<text transform="translate(274.40,527.60) rotate(-90) translate(-12.12,3.65) scale(1.018,1)" font-size="10.43" fill="#222">3T40</text>
<line x1="282.70" y1="514.80" x2="282.70" y2="539.20" stroke="#222" stroke-width="1.3" />
<line x1="287.80" y1="518.80" x2="298.80" y2="518.80" stroke="#9fd0e6" stroke-width="0.9" />
<circle cx="293.2" cy="518.8" r="1.6" fill="#fff" stroke="#9fd0e6" stroke-width="0.9"/>
<line x1="287.80" y1="535.80" x2="298.80" y2="535.80" stroke="#e09aae" stroke-width="0.9" />
<circle cx="293.2" cy="535.8" r="1.6" fill="#fff" stroke="#e09aae" stroke-width="0.9"/>
<text transform="translate(304.14,522.40) scale(1.048,1)" font-size="10.21" fill="#222">HD Stim</text>
<text transform="translate(304.47,539.60) scale(1.039,1)" font-size="10.21" fill="#222">CLL Stim</text>
<text transform="translate(105.65,585.30) scale(0.945,1)" font-size="19.71" font-weight="bold" fill="#111" stroke="#111" stroke-width="0.5">C</text>
<text transform="translate(248.57,585.30) scale(1.051,1)" font-size="13.86" fill="#222">CD25</text>
<rect x="199.45" y="704.62" width="12.30" height="60.38" fill="#2fa9e1"/>
<rect x="219.85" y="757.57" width="12.30" height="7.43" fill="#c3002a"/>
<rect x="240.05" y="739.99" width="12.30" height="25.01" fill="#c3002a"/>
<rect x="273.65" y="678.34" width="12.30" height="86.66" fill="#c3002a"/>
<rect x="293.85" y="689.77" width="12.30" height="75.23" fill="#2fa9e1"/>
<rect x="327.45" y="679.22" width="12.30" height="85.78" fill="#c3002a"/>
<rect x="347.65" y="726.41" width="12.30" height="38.59" fill="#2fa9e1"/>
<line x1="263.00" y1="666.20" x2="263.00" y2="764.00" stroke="#333" stroke-width="1.1" stroke-dasharray="1.2,2.1"/>
<line x1="316.80" y1="666.20" x2="316.80" y2="764.00" stroke="#333" stroke-width="1.1" stroke-dasharray="1.2,2.1"/>
<line x1="171.80" y1="663.00" x2="171.80" y2="765.80" stroke="#000" stroke-width="1.6" />
<line x1="167.20" y1="765.00" x2="171.80" y2="765.00" stroke="#000" stroke-width="1.6" />
<text transform="translate(154.78,768.50) scale(1.120,1)" font-size="10.00" fill="#222">0</text>
<line x1="167.20" y1="745.46" x2="171.80" y2="745.46" stroke="#000" stroke-width="1.6" />
<text transform="translate(148.56,748.96) scale(1.120,1)" font-size="10.00" fill="#222">20</text>
<line x1="167.20" y1="725.92" x2="171.80" y2="725.92" stroke="#000" stroke-width="1.6" />
<text transform="translate(148.56,729.42) scale(1.120,1)" font-size="10.00" fill="#222">40</text>
<line x1="167.20" y1="706.38" x2="171.80" y2="706.38" stroke="#000" stroke-width="1.6" />
<text transform="translate(148.56,709.88) scale(1.120,1)" font-size="10.00" fill="#222">60</text>
<line x1="167.20" y1="686.84" x2="171.80" y2="686.84" stroke="#000" stroke-width="1.6" />
<text transform="translate(148.56,690.34) scale(1.120,1)" font-size="10.00" fill="#222">80</text>
<line x1="167.20" y1="667.30" x2="171.80" y2="667.30" stroke="#000" stroke-width="1.6" />
<text transform="translate(142.34,670.80) scale(1.120,1)" font-size="10.00" fill="#222">100</text>
<line x1="171.05" y1="765.00" x2="368.70" y2="765.00" stroke="#000" stroke-width="1.6" />
<line x1="185.00" y1="765.00" x2="185.00" y2="770.40" stroke="#000" stroke-width="1.4" />
<line x1="205.60" y1="765.00" x2="205.60" y2="770.40" stroke="#000" stroke-width="1.4" />
<line x1="226.00" y1="765.00" x2="226.00" y2="770.40" stroke="#000" stroke-width="1.4" />
<line x1="246.20" y1="765.00" x2="246.20" y2="770.40" stroke="#000" stroke-width="1.4" />
<line x1="279.80" y1="765.00" x2="279.80" y2="770.40" stroke="#000" stroke-width="1.4" />
<line x1="300.00" y1="765.00" x2="300.00" y2="770.40" stroke="#000" stroke-width="1.4" />
<line x1="333.60" y1="765.00" x2="333.60" y2="770.40" stroke="#000" stroke-width="1.4" />
<line x1="353.80" y1="765.00" x2="353.80" y2="770.40" stroke="#000" stroke-width="1.4" />
<text transform="translate(127.80,714.00) rotate(-90) translate(-21.11,5.10) scale(0.620,1)" font-size="14.07" fill="#222" stroke="#222" stroke-width="0.3" letter-spacing="1.134">% of CD8</text>
<circle cx="180.40" cy="763.60" r="1.3" fill="#111"/>
<circle cx="182.80" cy="762.60" r="1.3" fill="#111"/>
<circle cx="185.00" cy="763.20" r="1.3" fill="#111"/>
<circle cx="187.20" cy="763.00" r="1.3" fill="#111"/>
<circle cx="189.60" cy="763.40" r="1.3" fill="#111"/>
<line x1="205.60" y1="698.50" x2="205.60" y2="710.50" stroke="#111" stroke-width="1.3" />
<line x1="202.60" y1="698.50" x2="208.60" y2="698.50" stroke="#111" stroke-width="1.3" />
<line x1="202.60" y1="710.50" x2="208.60" y2="710.50" stroke="#111" stroke-width="1.3" />
<circle cx="205.60" cy="676.20" r="1.4" fill="#111"/>
<circle cx="205.60" cy="680.80" r="1.4" fill="#111"/>
<circle cx="205.60" cy="689.50" r="1.4" fill="#111"/>
<circle cx="202.40" cy="710.00" r="1.4" fill="#111"/>
<circle cx="208.50" cy="707.70" r="1.4" fill="#111"/>
<circle cx="205.60" cy="714.60" r="1.4" fill="#111"/>
<circle cx="208.50" cy="717.70" r="1.4" fill="#111"/>
<circle cx="202.40" cy="721.50" r="1.4" fill="#111"/>
<circle cx="208.50" cy="720.80" r="1.4" fill="#111"/>
<line x1="226.00" y1="755.20" x2="226.00" y2="760.00" stroke="#111" stroke-width="1.3" />
<line x1="223.00" y1="755.20" x2="229.00" y2="755.20" stroke="#111" stroke-width="1.3" />
<line x1="223.00" y1="760.00" x2="229.00" y2="760.00" stroke="#111" stroke-width="1.3" />
<circle cx="226.00" cy="748.20" r="1.4" fill="#111"/>
<circle cx="222.50" cy="751.50" r="1.4" fill="#111"/>
<circle cx="229.50" cy="751.50" r="1.4" fill="#111"/>
<circle cx="222.50" cy="757.00" r="1.4" fill="#111"/>
<circle cx="229.50" cy="757.00" r="1.4" fill="#111"/>
<circle cx="226.00" cy="760.00" r="1.4" fill="#111"/>
<circle cx="223.00" cy="762.50" r="1.4" fill="#111"/>
<circle cx="229.00" cy="762.50" r="1.4" fill="#111"/>
<line x1="246.20" y1="735.80" x2="246.20" y2="744.00" stroke="#111" stroke-width="1.3" />
<line x1="243.20" y1="735.80" x2="249.20" y2="735.80" stroke="#111" stroke-width="1.3" />
<line x1="243.20" y1="744.00" x2="249.20" y2="744.00" stroke="#111" stroke-width="1.3" />
<circle cx="242.50" cy="720.50" r="1.4" fill="#111"/>
<circle cx="249.50" cy="720.50" r="1.4" fill="#111"/>
<circle cx="246.20" cy="733.00" r="1.4" fill="#111"/>
<circle cx="242.50" cy="736.00" r="1.4" fill="#111"/>
<circle cx="249.50" cy="736.00" r="1.4" fill="#111"/>
<circle cx="244.00" cy="745.00" r="1.4" fill="#111"/>
<circle cx="249.50" cy="748.00" r="1.4" fill="#111"/>
<circle cx="242.50" cy="755.00" r="1.4" fill="#111"/>
<circle cx="249.50" cy="752.00" r="1.4" fill="#111"/>
<circle cx="246.20" cy="760.00" r="1.4" fill="#111"/>
<line x1="279.80" y1="676.30" x2="279.80" y2="680.50" stroke="#111" stroke-width="1.3" />
<line x1="276.80" y1="676.30" x2="282.80" y2="676.30" stroke="#111" stroke-width="1.3" />
<line x1="276.80" y1="680.50" x2="282.80" y2="680.50" stroke="#111" stroke-width="1.3" />
<circle cx="274.40" cy="672.20" r="1.4" fill="#111"/>
<circle cx="278.00" cy="670.40" r="1.4" fill="#111"/>
<circle cx="281.40" cy="672.70" r="1.4" fill="#111"/>
<circle cx="285.00" cy="672.20" r="1.4" fill="#111"/>
<circle cx="280.50" cy="676.30" r="1.4" fill="#111"/>
<circle cx="274.40" cy="678.60" r="1.4" fill="#111"/>
<circle cx="285.00" cy="680.60" r="1.4" fill="#111"/>
<circle cx="279.80" cy="686.20" r="1.4" fill="#111"/>
<circle cx="280.00" cy="682.00" r="1.4" fill="#111"/>
<line x1="300.00" y1="686.50" x2="300.00" y2="692.50" stroke="#111" stroke-width="1.3" />
<line x1="297.00" y1="686.50" x2="303.00" y2="686.50" stroke="#111" stroke-width="1.3" />
<line x1="297.00" y1="692.50" x2="303.00" y2="692.50" stroke="#111" stroke-width="1.3" />
<circle cx="297.00" cy="679.00" r="1.4" fill="#111"/>
<circle cx="303.00" cy="678.00" r="1.4" fill="#111"/>
<circle cx="303.00" cy="682.00" r="1.4" fill="#111"/>
<circle cx="297.00" cy="685.40" r="1.4" fill="#111"/>
<circle cx="303.00" cy="687.90" r="1.4" fill="#111"/>
<circle cx="297.00" cy="689.20" r="1.4" fill="#111"/>
<circle cx="303.00" cy="693.30" r="1.4" fill="#111"/>
<circle cx="297.00" cy="695.50" r="1.4" fill="#111"/>
<circle cx="297.00" cy="701.20" r="1.4" fill="#111"/>
<circle cx="303.00" cy="700.00" r="1.4" fill="#111"/>
<line x1="333.60" y1="677.20" x2="333.60" y2="681.00" stroke="#111" stroke-width="1.3" />
<line x1="330.60" y1="677.20" x2="336.60" y2="677.20" stroke="#111" stroke-width="1.3" />
<line x1="330.60" y1="681.00" x2="336.60" y2="681.00" stroke="#111" stroke-width="1.3" />
<circle cx="333.80" cy="671.20" r="1.4" fill="#111"/>
<circle cx="328.20" cy="675.00" r="1.4" fill="#111"/>
<circle cx="333.80" cy="674.80" r="1.4" fill="#111"/>
<circle cx="338.80" cy="676.00" r="1.4" fill="#111"/>
<circle cx="331.00" cy="677.20" r="1.4" fill="#111"/>
<circle cx="336.50" cy="677.20" r="1.4" fill="#111"/>
<circle cx="333.80" cy="680.00" r="1.4" fill="#111"/>
<circle cx="333.80" cy="692.00" r="1.4" fill="#111"/>
<line x1="353.80" y1="720.40" x2="353.80" y2="733.00" stroke="#111" stroke-width="1.3" />
<line x1="350.80" y1="720.40" x2="356.80" y2="720.40" stroke="#111" stroke-width="1.3" />
<line x1="350.80" y1="733.00" x2="356.80" y2="733.00" stroke="#111" stroke-width="1.3" />
<circle cx="353.80" cy="698.30" r="1.4" fill="#111"/>
<circle cx="353.80" cy="704.70" r="1.4" fill="#111"/>
<circle cx="353.80" cy="720.40" r="1.4" fill="#111"/>
<circle cx="350.80" cy="723.70" r="1.4" fill="#111"/>
<circle cx="350.80" cy="727.30" r="1.4" fill="#111"/>
<circle cx="356.80" cy="727.30" r="1.4" fill="#111"/>
<circle cx="350.80" cy="733.20" r="1.4" fill="#111"/>
<circle cx="356.80" cy="733.20" r="1.4" fill="#111"/>
<circle cx="353.80" cy="739.60" r="1.4" fill="#111"/>
<circle cx="353.80" cy="751.30" r="1.4" fill="#111"/>
<path d="M205.60,608.80 V603.80 H300.10 V608.80" fill="none" stroke="#333" stroke-width="1.3"/>
<path d="M205.60,627.40 V622.20 H280.00 V627.40" fill="none" stroke="#333" stroke-width="1.3"/>
<path d="M245.80,646.00 V640.80 H298.00 V646.00" fill="none" stroke="#333" stroke-width="1.3"/>
<path d="M301.40,646.00 V640.80 H354.20 V646.00" fill="none" stroke="#333" stroke-width="1.3"/>
<path d="M205.60,664.20 V659.00 H244.70 V664.20" fill="none" stroke="#333" stroke-width="1.3"/>
<path d="M247.90,664.20 V659.00 H280.00 V664.20" fill="none" stroke="#333" stroke-width="1.3"/>
<path d="M333.50,663.80 V659.00 H353.80 V663.80" fill="none" stroke="#333" stroke-width="1.3"/>
<text transform="translate(250.59,602.90) scale(1.000,1)" font-size="10.30" fill="#111">*</text>
<text transform="translate(235.19,621.30) scale(1.000,1)" font-size="10.30" fill="#111">****</text>
<text transform="translate(264.19,639.70) scale(1.000,1)" font-size="10.30" fill="#111">****</text>
<text transform="translate(319.69,639.70) scale(1.000,1)" font-size="10.30" fill="#111">****</text>
<text transform="translate(216.99,658.40) scale(1.000,1)" font-size="10.30" fill="#111">****</text>
<text transform="translate(255.79,658.40) scale(1.000,1)" font-size="10.30" fill="#111">****</text>
<text transform="translate(335.59,658.60) scale(1.000,1)" font-size="10.30" fill="#111">****</text>
<rect x="379.20" y="664.20" width="10.30" height="9.30" fill="#2fa9e1"/>
<rect x="379.20" y="681.20" width="10.30" height="9.40" fill="#c3002a"/>
<text transform="translate(394.72,671.60) scale(1.111,1)" font-size="9.86" fill="#222">HD</text>
<text transform="translate(395.09,689.00) scale(0.970,1)" font-size="10.57" fill="#222">CLL</text>
<text transform="translate(190.20,784.20) rotate(-45) scale(0.850,1) translate(-38.55,0)" font-size="11.70" fill="#222" stroke="#222" stroke-width="0.2">Unstim.</text>
<text transform="translate(210.80,784.20) rotate(-45) scale(0.850,1) translate(-25.56,0)" font-size="11.70" fill="#222" stroke="#222" stroke-width="0.2">Stim.</text>
<text transform="translate(231.20,784.20) rotate(-45) scale(0.850,1) translate(-38.55,0)" font-size="11.70" fill="#222" stroke="#222" stroke-width="0.2">Unstim.</text>
<text transform="translate(251.40,784.20) rotate(-45) scale(0.850,1) translate(-25.56,0)" font-size="11.70" fill="#222" stroke="#222" stroke-width="0.2">Stim.</text>
<text transform="translate(285.00,784.20) rotate(-45) scale(0.850,1) translate(-66.87,0)" font-size="11.70" fill="#222" stroke="#222" stroke-width="0.2">Stim. (CTV–)</text>
<text transform="translate(305.20,784.20) rotate(-45) scale(0.850,1) translate(-67.22,0)" font-size="11.70" fill="#222" stroke="#222" stroke-width="0.2">Stim. (CTV+)</text>
<text transform="translate(338.80,784.20) rotate(-45) scale(0.850,1) translate(-66.87,0)" font-size="11.70" fill="#222" stroke="#222" stroke-width="0.2">Stim. (CTV–)</text>
<text transform="translate(359.00,784.20) rotate(-45) scale(0.850,1) translate(-67.22,0)" font-size="11.70" fill="#222" stroke="#222" stroke-width="0.2">Stim. (CTV+)</text>
<line x1="181.00" y1="831.40" x2="216.00" y2="831.40" stroke="#000" stroke-width="1.3" />
<line x1="226.40" y1="831.40" x2="362.20" y2="831.40" stroke="#000" stroke-width="1.3" />
<line x1="270.40" y1="853.80" x2="362.20" y2="853.80" stroke="#000" stroke-width="1.3" />
<line x1="271.60" y1="876.20" x2="308.70" y2="876.20" stroke="#000" stroke-width="1.3" />
<line x1="324.60" y1="876.20" x2="362.20" y2="876.20" stroke="#000" stroke-width="1.3" />
<text transform="translate(190.31,845.80) scale(1.071,1)" font-size="10.43" fill="#222">HD</text>
<text transform="translate(306.78,846.10) scale(1.034,1)" font-size="10.14" fill="#222">CLL</text>
<text transform="translate(298.85,868.60) scale(0.974,1)" font-size="11.29" fill="#222">CD40L</text>
<text transform="translate(271.63,891.50) scale(0.940,1)" font-size="11.01" fill="#222">non-TW</text>
<text transform="translate(334.78,891.50) scale(0.979,1)" font-size="11.01" fill="#222">TW</text>
<rect x="0" y="0" width="520" height="905" fill="none" stroke="#151515" stroke-width="2.3"/>
</svg>
</body></html>
